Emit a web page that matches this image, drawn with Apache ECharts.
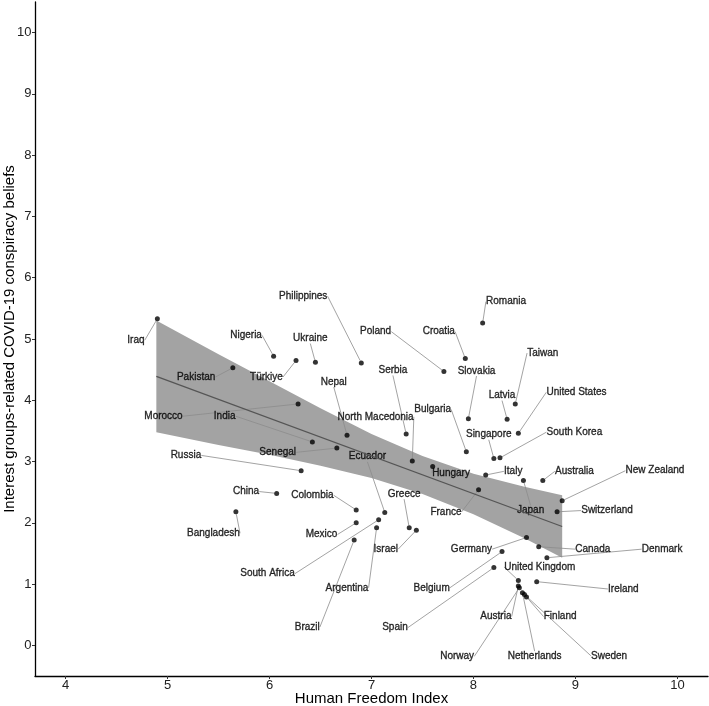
<!DOCTYPE html>
<html>
<head>
<meta charset="utf-8">
<script src="https://cdn.jsdelivr.net/npm/echarts@6/dist/echarts.min.js"></script>
<style>
html, body { margin: 0; padding: 0; background: #fff; }
#chart_hfi { width: 709px; height: 706px; }
</style>
</head>
<body>
<div id="chart_hfi"></div>
<script>
const countries = ["Iraq", "Nigeria", "Ukraine", "Türkiye", "Pakistan", "Philippines", "Nepal", "Morocco", "India",
    "North Macedonia", "Senegal", "Ecuador", "Russia", "China", "Colombia", "Bangladesh", "Mexico", "Greece", "France",
    "Hungary", "Israel", "Germany", "Italy", "Japan", "Serbia", "Poland", "Croatia", "Slovakia", "Romania", "Taiwan",
    "Latvia", "United States", "Bulgaria", "Singapore", "South Korea", "Australia", "New Zealand", "Switzerland",
    "Canada", "Denmark", "United Kingdom", "Ireland", "Belgium", "South Africa", "Argentina", "Brazil", "Spain",
    "Austria", "Finland", "Norway", "Netherlands", "Sweden"];
const freedom = [4.90, 6.04, 6.45, 6.26, 5.64, 6.90, 6.76, 6.28, 6.42,
    7.40, 6.66, 7.13, 6.31, 6.07, 6.85, 5.67, 6.85, 7.37, 8.05,
    7.60, 7.44, 8.52, 8.12, 8.49, 7.34, 7.71, 7.92, 7.95, 8.09, 8.41,
    8.33, 8.44, 7.93, 8.20, 8.26, 8.68, 8.87, 8.82,
    8.64, 8.72, 8.44, 8.62, 8.28, 7.07, 7.05, 6.83, 8.20,
    8.44, 8.52, 8.45, 8.48, 8.50];
const beliefs = [5.33, 4.72, 4.62, 4.65, 4.53, 4.61, 3.43, 3.94, 3.32,
    3.01, 3.22, 2.17, 2.85, 2.48, 2.21, 2.18, 2.00, 1.92, 2.54,
    2.92, 1.88, 1.76, 2.78, 2.69, 3.45, 4.47, 4.68, 3.70, 5.26, 3.94,
    3.69, 3.46, 3.16, 3.05, 3.06, 2.69, 2.36, 2.18,
    1.61, 1.43, 1.06, 1.04, 1.53, 2.05, 1.92, 1.72, 1.27,
    0.97, 0.79, 0.94, 0.86, 0.83];

// where the repelled labels sit (axis units)
const labelX = [4.69, 5.77, 6.40, 5.97, 5.28, 6.33, 6.63, 4.96, 5.56,
    7.04, 6.08, 6.96, 5.18, 5.77, 6.42, 5.45, 6.51, 7.32, 7.73,
    7.78, 7.14, 7.98, 8.39, 8.56, 7.21, 7.04, 7.66, 8.03, 8.32, 8.68,
    8.28, 9.01, 7.60, 8.15, 8.99, 8.99, 9.78, 9.31,
    9.17, 9.85, 8.65, 9.47, 7.59, 5.98, 6.76, 6.37, 7.23,
    8.22, 8.85, 7.84, 8.60, 9.33];
const labelY = [4.98, 5.06, 5.01, 4.38, 4.38, 5.70, 4.30, 3.74, 3.74,
    3.73, 3.15, 3.08, 3.10, 2.51, 2.45, 1.83, 1.81, 2.47, 2.18,
    2.81, 1.57, 1.57, 2.84, 2.20, 4.49, 5.12, 5.12, 4.48, 5.61, 4.77,
    4.08, 4.13, 3.85, 3.44, 3.48, 2.84, 2.85, 2.20,
    1.57, 1.57, 1.28, 0.92, 0.94, 1.17, 0.94, 0.30, 0.29,
    0.47, 0.47, -0.18, -0.18, -0.17];

// linear fit and its confidence band
const fitX = [4.89, 8.87];
const fitY = [4.39, 1.94];
const bandX = [4.89, 5.5, 6.0, 6.5, 7.0, 7.5, 8.0, 8.5, 8.87];
const bandLow = [3.48, 3.27, 3.11, 2.93, 2.73, 2.47, 2.14, 1.75, 1.43];
const bandHigh = [5.30, 4.75, 4.31, 3.87, 3.45, 3.09, 2.80, 2.59, 2.45];

const xTicks = [4, 5, 6, 7, 8, 9, 10];
const yTicks = [0, 1, 2, 3, 4, 5, 6, 7, 8, 9, 10];

window.renderChartHfi = function () {
    const div = document.getElementById("chart_hfi");
    if (!div) return;

    const chart = echarts.init(div);
    const font = '"Liberation Sans", Arial, sans-serif';

    const axisCommon = {
        type: "value",
        nameLocation: "middle",
        nameMoveOverlap: false,
        nameTextStyle: { color: "#000", fontSize: 15, fontFamily: font },
        axisLine: { show: true, onZero: false, lineStyle: { color: "#000", width: 1.3 } },
        axisTick: { show: true, length: 3, lineStyle: { color: "#333", width: 1 } },
        splitLine: { show: false }
    };

    const option = {
        animation: false,
        backgroundColor: "#fff",
        grid: { left: 35, right: 1, top: 2, bottom: 30, outerBoundsMode: "none", containLabel: false },
        xAxis: Object.assign({}, axisCommon, {
            min: 3.7, max: 10.3,
            name: "Human Freedom Index",
            nameGap: 15,
            axisTick: Object.assign({}, axisCommon.axisTick, { customValues: xTicks }),
            axisLabel: { customValues: xTicks, margin: 3, color: "#222", fontSize: 13, fontFamily: font }
        }),
        yAxis: Object.assign({}, axisCommon, {
            min: -0.5, max: 10.5,
            name: "Interest groups-related COVID-19 conspiracy beliefs",
            nameGap: 18,
            axisTick: Object.assign({}, axisCommon.axisTick, { customValues: yTicks }),
            axisLabel: { customValues: yTicks, margin: 3.5, color: "#222", fontSize: 13, fontFamily: font }
        }),
        series: [
            {
                // confidence band as one polygon
                type: "custom",
                silent: true,
                data: bandX.map((x, i) => [x, bandLow[i], bandHigh[i]]),
                renderItem: function (params, api) {
                    if (params.dataIndex !== 0) return;
                    const pts = [];
                    bandX.forEach((x, i) => pts.push(api.coord([x, bandHigh[i]])));
                    for (let i = bandX.length - 1; i >= 0; i--) {
                        pts.push(api.coord([bandX[i], bandLow[i]]));
                    }
                    return {
                        type: "polygon",
                        shape: { points: pts },
                        style: { fill: "#a3a3a3" }
                    };
                }
            },
            {
                type: "line",
                silent: true,
                symbol: "none",
                lineStyle: { color: "#555", width: 1.2 },
                data: fitX.map((x, i) => [x, fitY[i]])
            },
            {
                type: "scatter",
                symbolSize: 5,
                itemStyle: { color: "#000" },
                data: countries.map((c, i) => ({ name: c, value: [freedom[i], beliefs[i]] })),
                label: {
                    show: true,
                    formatter: "{b}",
                    color: "#000",
                    fontSize: 10,
                    fontFamily: font,
                    textBorderColor: "#000",
                    textBorderWidth: 0.35
                },
                labelLine: {
                    show: true,
                    length2: 0,
                    lineStyle: { color: "#8c8c8c", width: 0.8 }
                },
                labelLayout: function (params) {
                    const i = params.dataIndex;
                    const p = chart.convertToPixel({ gridIndex: 0 }, [labelX[i], labelY[i]]);
                    return { x: p[0], y: p[1], align: "center", verticalAlign: "middle" };
                }
            }
        ]
    };

    chart.setOption(option);
    chart.resize();
};

window.renderChartHfi();
</script>
</body>
</html>
